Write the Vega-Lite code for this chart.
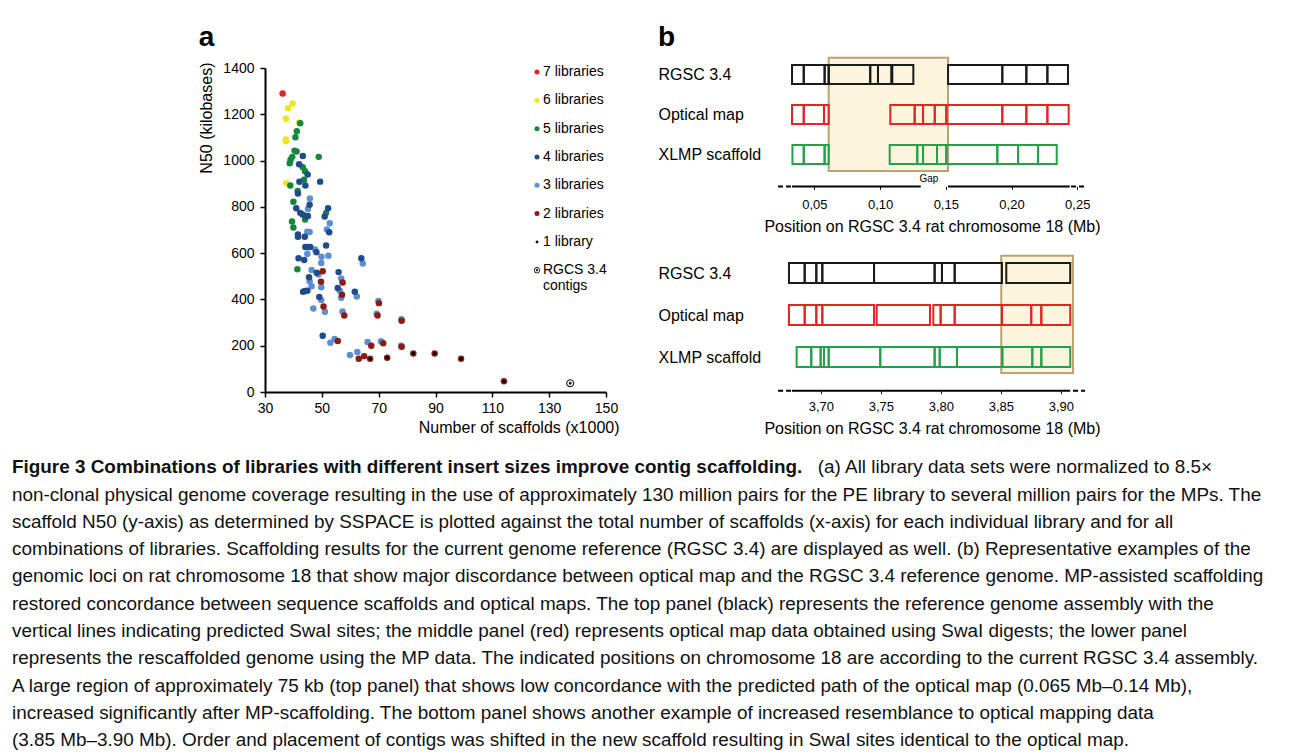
{
  "$schema": "https://vega.github.io/schema/vega-lite/v6.json",
  "background": "white",
  "padding": {"left": 12, "top": 23, "right": 0, "bottom": 0},
  "config": {
    "view": {"stroke": null},
    "font": "Liberation Sans",
    "axis": {"labelFont": "Liberation Sans", "titleFont": "Liberation Sans", "grid": false, "labelColor": "#000", "titleColor": "#000", "titleFontWeight": "normal", "labelFlush": false, "domainColor": "#000", "tickColor": "#000"},
    "legend": {"labelFont": "Liberation Sans", "labelColor": "#000"},
    "title": {"font": "Liberation Sans", "color": "#000"},
    "bar": {"continuousBandSize": 19}
  },
  "spacing": 16.6,
  "vconcat": [
    {
      "spacing": 39,
      "hconcat": [
        {
          "width": 147, "height": 20,
          "data": {"values": [{"k": 1}]},
          "mark": {"type": "point", "opacity": 0}
        },
        {
          "vconcat": [
            {
              "width": 341, "height": 324,
              "title": {"text": "a", "anchor": "start", "frame": "bounds", "fontSize": 28, "fontWeight": "bold", "offset": 9.3},
              "data": {"values": [
                {"scaffolds": 39.7, "n50": 1247, "lib": "6 libraries"},
                {"scaffolds": 38.1, "n50": 1226, "lib": "6 libraries"},
                {"scaffolds": 37.4, "n50": 1181, "lib": "6 libraries"},
                {"scaffolds": 42.0, "n50": 1165, "lib": "6 libraries"},
                {"scaffolds": 37.3, "n50": 1091, "lib": "6 libraries"},
                {"scaffolds": 37.4, "n50": 1083, "lib": "6 libraries"},
                {"scaffolds": 37.5, "n50": 902, "lib": "6 libraries"},
                {"scaffolds": 36.2, "n50": 1290, "lib": "7 libraries"},
                {"scaffolds": 42.4, "n50": 1161, "lib": "5 libraries"},
                {"scaffolds": 41.2, "n50": 1127, "lib": "5 libraries"},
                {"scaffolds": 40.7, "n50": 1101, "lib": "5 libraries"},
                {"scaffolds": 40.4, "n50": 1043, "lib": "5 libraries"},
                {"scaffolds": 41.1, "n50": 1039, "lib": "5 libraries"},
                {"scaffolds": 39.6, "n50": 1016, "lib": "5 libraries"},
                {"scaffolds": 39.0, "n50": 1004, "lib": "5 libraries"},
                {"scaffolds": 38.7, "n50": 988, "lib": "5 libraries"},
                {"scaffolds": 48.9, "n50": 1016, "lib": "5 libraries"},
                {"scaffolds": 43.3, "n50": 971, "lib": "5 libraries"},
                {"scaffolds": 44.1, "n50": 954, "lib": "5 libraries"},
                {"scaffolds": 43.7, "n50": 917, "lib": "5 libraries"},
                {"scaffolds": 38.9, "n50": 892, "lib": "5 libraries"},
                {"scaffolds": 41.5, "n50": 869, "lib": "5 libraries"},
                {"scaffolds": 40.0, "n50": 822, "lib": "5 libraries"},
                {"scaffolds": 51.5, "n50": 774, "lib": "5 libraries"},
                {"scaffolds": 44.1, "n50": 745, "lib": "5 libraries"},
                {"scaffolds": 39.5, "n50": 737, "lib": "5 libraries"},
                {"scaffolds": 40.0, "n50": 711, "lib": "5 libraries"},
                {"scaffolds": 41.4, "n50": 530, "lib": "5 libraries"},
                {"scaffolds": 45.8, "n50": 836, "lib": "3 libraries"},
                {"scaffolds": 45.1, "n50": 791, "lib": "3 libraries"},
                {"scaffolds": 52.8, "n50": 729, "lib": "3 libraries"},
                {"scaffolds": 51.8, "n50": 702, "lib": "3 libraries"},
                {"scaffolds": 44.9, "n50": 692, "lib": "3 libraries"},
                {"scaffolds": 45.7, "n50": 691, "lib": "3 libraries"},
                {"scaffolds": 47.6, "n50": 616, "lib": "3 libraries"},
                {"scaffolds": 44.9, "n50": 597, "lib": "3 libraries"},
                {"scaffolds": 49.9, "n50": 584, "lib": "3 libraries"},
                {"scaffolds": 52.3, "n50": 589, "lib": "3 libraries"},
                {"scaffolds": 49.8, "n50": 557, "lib": "3 libraries"},
                {"scaffolds": 64.4, "n50": 555, "lib": "3 libraries"},
                {"scaffolds": 46.4, "n50": 527, "lib": "3 libraries"},
                {"scaffolds": 48.8, "n50": 508, "lib": "3 libraries"},
                {"scaffolds": 56.8, "n50": 491, "lib": "3 libraries"},
                {"scaffolds": 45.7, "n50": 479, "lib": "3 libraries"},
                {"scaffolds": 46.4, "n50": 457, "lib": "3 libraries"},
                {"scaffolds": 49.8, "n50": 453, "lib": "3 libraries"},
                {"scaffolds": 56.3, "n50": 438, "lib": "3 libraries"},
                {"scaffolds": 56.8, "n50": 407, "lib": "3 libraries"},
                {"scaffolds": 62.3, "n50": 413, "lib": "3 libraries"},
                {"scaffolds": 49.8, "n50": 397, "lib": "3 libraries"},
                {"scaffolds": 69.9, "n50": 393, "lib": "3 libraries"},
                {"scaffolds": 47.0, "n50": 361, "lib": "3 libraries"},
                {"scaffolds": 51.1, "n50": 347, "lib": "3 libraries"},
                {"scaffolds": 57.3, "n50": 348, "lib": "3 libraries"},
                {"scaffolds": 69.3, "n50": 338, "lib": "3 libraries"},
                {"scaffolds": 78.0, "n50": 314, "lib": "3 libraries"},
                {"scaffolds": 54.5, "n50": 229, "lib": "3 libraries"},
                {"scaffolds": 53.0, "n50": 213, "lib": "3 libraries"},
                {"scaffolds": 66.1, "n50": 216, "lib": "3 libraries"},
                {"scaffolds": 70.8, "n50": 219, "lib": "3 libraries"},
                {"scaffolds": 77.9, "n50": 200, "lib": "3 libraries"},
                {"scaffolds": 59.9, "n50": 160, "lib": "3 libraries"},
                {"scaffolds": 62.5, "n50": 173, "lib": "3 libraries"},
                {"scaffolds": 43.3, "n50": 1020, "lib": "4 libraries"},
                {"scaffolds": 42.0, "n50": 984, "lib": "4 libraries"},
                {"scaffolds": 45.0, "n50": 940, "lib": "4 libraries"},
                {"scaffolds": 49.4, "n50": 909, "lib": "4 libraries"},
                {"scaffolds": 42.1, "n50": 908, "lib": "4 libraries"},
                {"scaffolds": 44.2, "n50": 892, "lib": "4 libraries"},
                {"scaffolds": 41.6, "n50": 858, "lib": "4 libraries"},
                {"scaffolds": 45.7, "n50": 809, "lib": "4 libraries"},
                {"scaffolds": 41.0, "n50": 794, "lib": "4 libraries"},
                {"scaffolds": 52.2, "n50": 794, "lib": "4 libraries"},
                {"scaffolds": 42.4, "n50": 774, "lib": "4 libraries"},
                {"scaffolds": 43.2, "n50": 767, "lib": "4 libraries"},
                {"scaffolds": 44.3, "n50": 760, "lib": "4 libraries"},
                {"scaffolds": 45.1, "n50": 760, "lib": "4 libraries"},
                {"scaffolds": 51.0, "n50": 758, "lib": "4 libraries"},
                {"scaffolds": 52.6, "n50": 690, "lib": "4 libraries"},
                {"scaffolds": 41.6, "n50": 681, "lib": "4 libraries"},
                {"scaffolds": 41.6, "n50": 671, "lib": "4 libraries"},
                {"scaffolds": 44.0, "n50": 671, "lib": "4 libraries"},
                {"scaffolds": 44.2, "n50": 627, "lib": "4 libraries"},
                {"scaffolds": 45.1, "n50": 627, "lib": "4 libraries"},
                {"scaffolds": 45.9, "n50": 627, "lib": "4 libraries"},
                {"scaffolds": 51.5, "n50": 633, "lib": "4 libraries"},
                {"scaffolds": 48.1, "n50": 604, "lib": "4 libraries"},
                {"scaffolds": 41.8, "n50": 578, "lib": "4 libraries"},
                {"scaffolds": 43.8, "n50": 570, "lib": "4 libraries"},
                {"scaffolds": 63.9, "n50": 578, "lib": "4 libraries"},
                {"scaffolds": 48.2, "n50": 515, "lib": "4 libraries"},
                {"scaffolds": 55.9, "n50": 518, "lib": "4 libraries"},
                {"scaffolds": 45.5, "n50": 496, "lib": "4 libraries"},
                {"scaffolds": 55.6, "n50": 449, "lib": "4 libraries"},
                {"scaffolds": 43.4, "n50": 433, "lib": "4 libraries"},
                {"scaffolds": 44.1, "n50": 436, "lib": "4 libraries"},
                {"scaffolds": 44.9, "n50": 438, "lib": "4 libraries"},
                {"scaffolds": 61.6, "n50": 433, "lib": "4 libraries"},
                {"scaffolds": 49.1, "n50": 410, "lib": "4 libraries"},
                {"scaffolds": 50.3, "n50": 243, "lib": "4 libraries"},
                {"scaffolds": 50.3, "n50": 522, "lib": "2 libraries"},
                {"scaffolds": 49.7, "n50": 476, "lib": "2 libraries"},
                {"scaffolds": 57.3, "n50": 473, "lib": "2 libraries"},
                {"scaffolds": 57.1, "n50": 420, "lib": "2 libraries"},
                {"scaffolds": 70.1, "n50": 384, "lib": "2 libraries"},
                {"scaffolds": 50.6, "n50": 369, "lib": "2 libraries"},
                {"scaffolds": 57.9, "n50": 331, "lib": "2 libraries"},
                {"scaffolds": 69.6, "n50": 331, "lib": "2 libraries"},
                {"scaffolds": 78.1, "n50": 308, "lib": "2 libraries"},
                {"scaffolds": 55.6, "n50": 220, "lib": "2 libraries"},
                {"scaffolds": 67.4, "n50": 200, "lib": "2 libraries"},
                {"scaffolds": 71.6, "n50": 211, "lib": "2 libraries"},
                {"scaffolds": 78.1, "n50": 196, "lib": "2 libraries"},
                {"scaffolds": 64.9, "n50": 155, "lib": "2 libraries"},
                {"scaffolds": 63.0, "n50": 144, "lib": "2 libraries"},
                {"scaffolds": 67.0, "n50": 144, "lib": "2 libraries"},
                {"scaffolds": 73.0, "n50": 148, "lib": "2 libraries"},
                {"scaffolds": 82.2, "n50": 166, "lib": "2 libraries"},
                {"scaffolds": 89.7, "n50": 166, "lib": "2 libraries"},
                {"scaffolds": 99.0, "n50": 144, "lib": "2 libraries"},
                {"scaffolds": 114.1, "n50": 46, "lib": "2 libraries"},
                {"scaffolds": 67.0, "n50": 144, "lib": "1 library"},
                {"scaffolds": 73.0, "n50": 148, "lib": "1 library"},
                {"scaffolds": 82.2, "n50": 166, "lib": "1 library"},
                {"scaffolds": 89.7, "n50": 166, "lib": "1 library"},
                {"scaffolds": 99.0, "n50": 144, "lib": "1 library"},
                {"scaffolds": 114.1, "n50": 46, "lib": "1 library"},
                {"scaffolds": 137.4, "n50": 38, "lib": "RGCS 3.4 contigs"}
              ]},
              "mark": {"type": "point", "filled": true, "opacity": 1, "size": 42, "strokeWidth": 0},
              "encoding": {
                "x": {"field": "scaffolds", "type": "quantitative",
                      "scale": {"domain": [30, 150], "nice": false, "zero": false},
                      "axis": {"values": [30, 50, 70, 90, 110, 130, 150], "title": "Number of scaffolds (x1000)", "titleFontSize": 16, "titleAnchor": "end", "titleX": 354, "titlePadding": 4, "labelFontSize": 14, "labelPadding": 4, "tickSize": 5, "tickWidth": 1.5, "domainWidth": 2}},
                "y": {"field": "n50", "type": "quantitative",
                      "scale": {"domain": [0, 1400], "nice": false},
                      "axis": {"values": [0, 200, 400, 600, 800, 1000, 1200, 1400], "format": "d", "title": "N50 (kilobases)", "titleFontSize": 16, "titleAnchor": "end", "titleY": -6, "titlePadding": 8, "labelFontSize": 14, "labelPadding": 6, "tickSize": 5, "tickWidth": 1.5, "domainWidth": 2}},
                "color": {"field": "lib", "type": "nominal",
                          "scale": {"domain": ["7 libraries", "6 libraries", "5 libraries", "4 libraries", "3 libraries", "2 libraries", "1 library", "RGCS 3.4 contigs"],
                                    "range": ["#e5231b", "#f3e21c", "#14873d", "#1f4b8b", "#5b8ed3", "#8b1c14", "#000000", "#1a1a1a"]},
                          "legend": {"title": null, "orient": "none", "legendX": 518, "legendY": -2.9, "labelFontSize": 14, "symbolSize": 25, "rowPadding": 14.3, "labelOffset": -1, "symbolStrokeWidth": 0,
                                     "labelExpr": "datum.label == 'RGCS 3.4 contigs' ? ['RGCS 3.4', 'contigs'] : datum.label"}},
                "shape": {"field": "lib", "type": "nominal",
                          "scale": {"domain": ["7 libraries", "6 libraries", "5 libraries", "4 libraries", "3 libraries", "2 libraries", "1 library", "RGCS 3.4 contigs"],
                                    "range": ["circle", "circle", "circle", "circle", "circle", "circle",
                                              "M -0.55 0 A 0.55 0.55 0 1 1 0.55 0 A 0.55 0.55 0 1 1 -0.55 0 Z",
                                              "M -1.25 0 A 1.25 1.25 0 1 1 1.25 0 A 1.25 1.25 0 1 1 -1.25 0 Z M -0.9 0 A 0.9 0.9 0 1 0 0.9 0 A 0.9 0.9 0 1 0 -0.9 0 Z M -0.45 0 A 0.45 0.45 0 1 1 0.45 0 A 0.45 0.45 0 1 1 -0.45 0 Z"]}}
              }
            }
          ]
        },
        {
          "spacing": 15,
          "vconcat": [
            {
              "width": 312, "height": 118.4,
              "title": {"text": "b", "anchor": "start", "frame": "bounds", "fontSize": 28, "fontWeight": "bold", "offset": 4.3},
              "layer": [
                {
                  "data": {"values": [{"start": 0.0609, "end": 0.1517}]},
                  "mark": {"type": "rect", "fill": "#fdf4dd", "stroke": "#bba276", "strokeWidth": 2},
                  "encoding": {
                    "x": {"field": "start", "type": "quantitative",
                          "scale": {"domain": [0.0208, 0.2582], "nice": false, "zero": false, "padding": 0},
                          "axis": {"values": [0.05, 0.1, 0.15, 0.2, 0.25], "labelExpr": "replace(format(datum.value, '.2f'), '.', ',')", "domain": false, "tickSize": 3, "labelFontSize": 13, "labelPadding": 9, "title": "Position on RGSC 3.4 rat chromosome 18 (Mb)", "titleFontSize": 16, "titlePadding": 7}},
                    "x2": {"field": "end"},
                    "y": {"datum": 0.5825, "type": "quantitative",
                          "scale": {"domain": [0.84, 3.8], "reverse": true, "nice": false, "zero": false, "padding": 0},
                          "axis": {"values": [1, 2, 3], "labelExpr": "datum.value == 1 ? 'RGSC 3.4' : datum.value == 2 ? 'Optical map' : 'XLMP scaffold'", "domain": false, "ticks": false, "tickSize": 0, "labelAlign": "left", "labelBaseline": "middle", "labelPadding": 118, "labelFontSize": 16, "title": null}},
                    "y2": {"datum": 3.4175}
                  }
                },
                {
                  "data": {"values": [
                    {"track": "RGSC 3.4", "row": 1, "start": 0.0330, "end": 0.0419},
                    {"track": "RGSC 3.4", "row": 1, "start": 0.0419, "end": 0.0578},
                    {"track": "RGSC 3.4", "row": 1, "start": 0.0578, "end": 0.0609},
                    {"track": "RGSC 3.4", "row": 1, "start": 0.0609, "end": 0.0925},
                    {"track": "RGSC 3.4", "row": 1, "start": 0.0925, "end": 0.0984},
                    {"track": "RGSC 3.4", "row": 1, "start": 0.0984, "end": 0.1085},
                    {"track": "RGSC 3.4", "row": 1, "start": 0.1093, "end": 0.1253},
                    {"track": "RGSC 3.4", "row": 1, "start": 0.1517, "end": 0.1930},
                    {"track": "RGSC 3.4", "row": 1, "start": 0.1930, "end": 0.2113},
                    {"track": "RGSC 3.4", "row": 1, "start": 0.2113, "end": 0.2273},
                    {"track": "RGSC 3.4", "row": 1, "start": 0.2273, "end": 0.2430},
                    {"track": "Optical map", "row": 2, "start": 0.0330, "end": 0.0419},
                    {"track": "Optical map", "row": 2, "start": 0.0419, "end": 0.0573},
                    {"track": "Optical map", "row": 2, "start": 0.0573, "end": 0.0609},
                    {"track": "Optical map", "row": 2, "start": 0.1078, "end": 0.1263},
                    {"track": "Optical map", "row": 2, "start": 0.1263, "end": 0.1327},
                    {"track": "Optical map", "row": 2, "start": 0.1327, "end": 0.1416},
                    {"track": "Optical map", "row": 2, "start": 0.1416, "end": 0.1504},
                    {"track": "Optical map", "row": 2, "start": 0.1504, "end": 0.1930},
                    {"track": "Optical map", "row": 2, "start": 0.1930, "end": 0.2113},
                    {"track": "Optical map", "row": 2, "start": 0.2113, "end": 0.2273},
                    {"track": "Optical map", "row": 2, "start": 0.2273, "end": 0.2435},
                    {"track": "XLMP scaffold", "row": 3, "start": 0.0333, "end": 0.0419},
                    {"track": "XLMP scaffold", "row": 3, "start": 0.0419, "end": 0.0578},
                    {"track": "XLMP scaffold", "row": 3, "start": 0.0578, "end": 0.0609},
                    {"track": "XLMP scaffold", "row": 3, "start": 0.1073, "end": 0.1283},
                    {"track": "XLMP scaffold", "row": 3, "start": 0.1283, "end": 0.1327},
                    {"track": "XLMP scaffold", "row": 3, "start": 0.1327, "end": 0.1433},
                    {"track": "XLMP scaffold", "row": 3, "start": 0.1433, "end": 0.1504},
                    {"track": "XLMP scaffold", "row": 3, "start": 0.1504, "end": 0.1892},
                    {"track": "XLMP scaffold", "row": 3, "start": 0.1892, "end": 0.2050},
                    {"track": "XLMP scaffold", "row": 3, "start": 0.2050, "end": 0.2202},
                    {"track": "XLMP scaffold", "row": 3, "start": 0.2202, "end": 0.2344}
                  ]},
                  "mark": {"type": "bar", "orient": "horizontal", "height": 19, "fillOpacity": 0, "strokeWidth": 2},
                  "encoding": {
                    "x": {"field": "start", "type": "quantitative"},
                    "x2": {"field": "end"},
                    "y": {"field": "row", "type": "quantitative"},
                    "stroke": {"field": "track", "type": "nominal", "legend": null,
                               "scale": {"domain": ["RGSC 3.4", "Optical map", "XLMP scaffold"], "range": ["#1a1a1a", "#e42326", "#23a04b"]}}
                  }
                },
                {
                  "data": {"values": [
                    {"start": 0.0223, "end": 0.0330, "style": "dash"},
                    {"start": 0.0330, "end": 0.1309, "style": "solid"},
                    {"start": 0.1517, "end": 0.2443, "style": "solid"},
                    {"start": 0.2453, "end": 0.2559, "style": "dash"}
                  ]},
                  "mark": {"type": "rule", "color": "#000", "strokeWidth": 2},
                  "encoding": {
                    "x": {"field": "start", "type": "quantitative"},
                    "x2": {"field": "end"},
                    "y": {"datum": 3.8, "type": "quantitative"},
                    "strokeDash": {"field": "style", "type": "nominal", "legend": null,
                                   "scale": {"domain": ["solid", "dash"], "range": [[1, 0], [5, 3]]}}
                  }
                },
                {
                  "data": {"values": [{"label": "Gap"}]},
                  "mark": {"type": "text", "fontSize": 10, "color": "#000"},
                  "encoding": {
                    "x": {"datum": 0.1372, "type": "quantitative"},
                    "y": {"datum": 3.62, "type": "quantitative"},
                    "text": {"field": "label"}
                  }
                }
              ]
            },
            {
              "width": 312, "height": 140.7,
              "layer": [
                {
                  "data": {"values": [{"start": 3.8503, "end": 3.9101}]},
                  "mark": {"type": "rect", "fill": "#fdf4dd", "stroke": "#bba276", "strokeWidth": 2},
                  "encoding": {
                    "x": {"field": "start", "type": "quantitative",
                          "scale": {"domain": [3.6626, 3.9226], "nice": false, "zero": false, "padding": 0},
                          "axis": {"values": [3.7, 3.75, 3.8, 3.85, 3.9], "labelExpr": "replace(format(datum.value, '.2f'), '.', ',')", "domain": false, "tickSize": 3, "labelFontSize": 13, "labelPadding": 7, "title": "Position on RGSC 3.4 rat chromosome 18 (Mb)", "titleFontSize": 16, "titlePadding": 7}},
                    "x2": {"field": "end"},
                    "y": {"datum": 0.586, "type": "quantitative",
                          "scale": {"domain": [0.45, 3.8], "reverse": true, "nice": false, "zero": false, "padding": 0},
                          "axis": {"values": [1, 2, 3], "labelExpr": "datum.value == 1 ? 'RGSC 3.4' : datum.value == 2 ? 'Optical map' : 'XLMP scaffold'", "domain": false, "ticks": false, "tickSize": 0, "labelAlign": "left", "labelBaseline": "middle", "labelPadding": 118, "labelFontSize": 16, "title": null}},
                    "y2": {"datum": 3.379}
                  }
                },
                {
                  "data": {"values": [
                    {"track": "RGSC 3.4", "row": 1, "start": 3.6734, "end": 3.6865},
                    {"track": "RGSC 3.4", "row": 1, "start": 3.6865, "end": 3.6962},
                    {"track": "RGSC 3.4", "row": 1, "start": 3.6962, "end": 3.7012},
                    {"track": "RGSC 3.4", "row": 1, "start": 3.7012, "end": 3.7443},
                    {"track": "RGSC 3.4", "row": 1, "start": 3.7443, "end": 3.7948},
                    {"track": "RGSC 3.4", "row": 1, "start": 3.7948, "end": 3.8009},
                    {"track": "RGSC 3.4", "row": 1, "start": 3.8009, "end": 3.8115},
                    {"track": "RGSC 3.4", "row": 1, "start": 3.8115, "end": 3.8509},
                    {"track": "RGSC 3.4", "row": 1, "start": 3.8545, "end": 3.9078},
                    {"track": "Optical map", "row": 2, "start": 3.6734, "end": 3.6865},
                    {"track": "Optical map", "row": 2, "start": 3.6865, "end": 3.6962},
                    {"track": "Optical map", "row": 2, "start": 3.6962, "end": 3.7012},
                    {"track": "Optical map", "row": 2, "start": 3.7012, "end": 3.7443},
                    {"track": "Optical map", "row": 2, "start": 3.7465, "end": 3.7909},
                    {"track": "Optical map", "row": 2, "start": 3.7937, "end": 3.7998},
                    {"track": "Optical map", "row": 2, "start": 3.7998, "end": 3.8115},
                    {"track": "Optical map", "row": 2, "start": 3.8115, "end": 3.8509},
                    {"track": "Optical map", "row": 2, "start": 3.8509, "end": 3.8753},
                    {"track": "Optical map", "row": 2, "start": 3.8753, "end": 3.8837},
                    {"track": "Optical map", "row": 2, "start": 3.8837, "end": 3.9078},
                    {"track": "XLMP scaffold", "row": 3, "start": 3.6798, "end": 3.6920},
                    {"track": "XLMP scaffold", "row": 3, "start": 3.6920, "end": 3.6998},
                    {"track": "XLMP scaffold", "row": 3, "start": 3.6998, "end": 3.7026},
                    {"track": "XLMP scaffold", "row": 3, "start": 3.7026, "end": 3.7065},
                    {"track": "XLMP scaffold", "row": 3, "start": 3.7065, "end": 3.7495},
                    {"track": "XLMP scaffold", "row": 3, "start": 3.7495, "end": 3.7948},
                    {"track": "XLMP scaffold", "row": 3, "start": 3.7948, "end": 3.7990},
                    {"track": "XLMP scaffold", "row": 3, "start": 3.7990, "end": 3.8134},
                    {"track": "XLMP scaffold", "row": 3, "start": 3.8134, "end": 3.8512},
                    {"track": "XLMP scaffold", "row": 3, "start": 3.8512, "end": 3.8762},
                    {"track": "XLMP scaffold", "row": 3, "start": 3.8762, "end": 3.8837},
                    {"track": "XLMP scaffold", "row": 3, "start": 3.8837, "end": 3.9078}
                  ]},
                  "mark": {"type": "bar", "orient": "horizontal", "height": 20, "fillOpacity": 0, "strokeWidth": 2},
                  "encoding": {
                    "x": {"field": "start", "type": "quantitative"},
                    "x2": {"field": "end"},
                    "y": {"field": "row", "type": "quantitative"},
                    "stroke": {"field": "track", "type": "nominal", "legend": null,
                               "scale": {"domain": ["RGSC 3.4", "Optical map", "XLMP scaffold"], "range": ["#1a1a1a", "#e42326", "#23a04b"]}}
                  }
                },
                {
                  "data": {"values": [
                    {"start": 3.6643, "end": 3.6759, "style": "dash"},
                    {"start": 3.6759, "end": 3.9078, "style": "solid"},
                    {"start": 3.9101, "end": 3.9201, "style": "dash"}
                  ]},
                  "mark": {"type": "rule", "color": "#000", "strokeWidth": 2},
                  "encoding": {
                    "x": {"field": "start", "type": "quantitative"},
                    "x2": {"field": "end"},
                    "y": {"datum": 3.8, "type": "quantitative"},
                    "strokeDash": {"field": "style", "type": "nominal", "legend": null,
                                   "scale": {"domain": ["solid", "dash"], "range": [[1, 0], [5, 3]]}}
                  }
                }
              ]
            }
          ]
        }
      ]
    },
    {
      "width": 1200,
      "height": {"step": 27.3},
      "data": {"values": [
        {"line": 1, "seg": "bold", "text": "Figure 3 Combinations of libraries with different insert sizes improve contig scaffolding."},
        {"line": 1, "seg": "rest", "text": "(a) All library data sets were normalized to 8.5×"},
        {"line": 2, "seg": "plain", "text": "non-clonal physical genome coverage resulting in the use of approximately 130 million pairs for the PE library to several million pairs for the MPs. The"},
        {"line": 3, "seg": "plain", "text": "scaffold N50 (y-axis) as determined by SSPACE is plotted against the total number of scaffolds (x-axis) for each individual library and for all"},
        {"line": 4, "seg": "plain", "text": "combinations of libraries. Scaffolding results for the current genome reference (RGSC 3.4) are displayed as well. (b) Representative examples of the"},
        {"line": 5, "seg": "plain", "text": "genomic loci on rat chromosome 18 that show major discordance between optical map and the RGSC 3.4 reference genome. MP-assisted scaffolding"},
        {"line": 6, "seg": "plain", "text": "restored concordance between sequence scaffolds and optical maps. The top panel (black) represents the reference genome assembly with the"},
        {"line": 7, "seg": "plain", "text": "vertical lines indicating predicted SwaI sites; the middle panel (red) represents optical map data obtained using SwaI digests; the lower panel"},
        {"line": 8, "seg": "plain", "text": "represents the rescaffolded genome using the MP data. The indicated positions on chromosome 18 are according to the current RGSC 3.4 assembly."},
        {"line": 9, "seg": "plain", "text": "A large region of approximately 75 kb (top panel) that shows low concordance with the predicted path of the optical map (0.065 Mb–0.14 Mb),"},
        {"line": 10, "seg": "plain", "text": "increased significantly after MP-scaffolding. The bottom panel shows another example of increased resemblance to optical mapping data"},
        {"line": 11, "seg": "plain", "text": "(3.85 Mb–3.90 Mb). Order and placement of contigs was shifted in the new scaffold resulting in SwaI sites identical to the optical map."}
      ]},
      "layer": [
        {
          "transform": [{"filter": "datum.seg == 'bold'"}],
          "mark": {"type": "text", "align": "left", "baseline": "middle", "fontSize": 18.9, "fontWeight": "bold", "color": "#111"},
          "encoding": {"y": {"field": "line", "type": "ordinal", "axis": null}, "x": {"value": 0}, "text": {"field": "text"}}
        },
        {
          "transform": [{"filter": "datum.seg == 'rest'"}],
          "mark": {"type": "text", "align": "right", "baseline": "middle", "fontSize": 18.9, "color": "#111"},
          "encoding": {"y": {"field": "line", "type": "ordinal", "axis": null}, "x": {"value": "width"}, "text": {"field": "text"}}
        },
        {
          "transform": [{"filter": "datum.seg == 'plain'"}],
          "mark": {"type": "text", "align": "left", "baseline": "middle", "fontSize": 18.9, "color": "#111"},
          "encoding": {"y": {"field": "line", "type": "ordinal", "axis": null}, "x": {"value": 0}, "text": {"field": "text"}}
        }
      ]
    }
  ]
}
